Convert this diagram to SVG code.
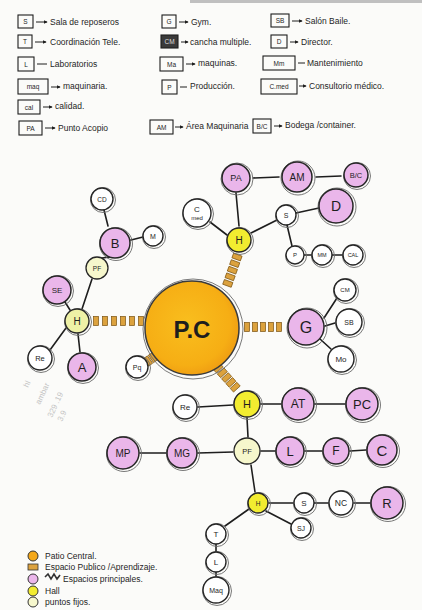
<svg xmlns="http://www.w3.org/2000/svg" xmlns:xlink="http://www.w3.org/1999/xlink" width="422" height="610" viewBox="0 0 422 610">
  <style>
    .hand { font-family: "Liberation Sans", "DejaVu Sans", sans-serif; fill: #1e1e1e; }
    .leg { font-size: 8.5px; }
    .tag { font-size: 6.5px; text-anchor: middle; }
    .box { fill: none; stroke: #1e1e1e; stroke-width: 1.1; }
    .arrow { stroke: #1e1e1e; stroke-width: 1; fill: none; }
    .ring { fill: none; stroke: #6a6a6a; stroke-width: 0.9; }
    .edge { stroke: #1e1e1e; stroke-width: 1.6; fill: none; stroke-linecap: round; }
    .pk { fill: #EAB6EA; stroke: #262626; stroke-width: 1.5; }
    .wh { fill: #ffffff; stroke: #262626; stroke-width: 1.4; }
    .yl { fill: #F2EC30; stroke: #262626; stroke-width: 1.4; }
    .yl2 { fill: #EEF1A6; stroke: #262626; stroke-width: 1.4; }
    .pf { fill: #F6F7CC; stroke: #262626; stroke-width: 1.3; }
    .lbl { font-family: "Liberation Sans", "DejaVu Sans", sans-serif; fill: #1e1e1e; text-anchor: middle; dominant-baseline: central; }
    .note { font-family: "Liberation Sans", "DejaVu Sans", sans-serif; fill: #c4c4c4; font-size: 8px; }
  </style>
  <defs>
    <marker id="ah" viewBox="0 0 6 6" refX="5" refY="3" markerWidth="4" markerHeight="4" orient="auto">
      <path d="M0,0 L6,3 L0,6 z" fill="#1e1e1e"/>
    </marker>
    <radialGradient id="patio" cx="0.45" cy="0.45" r="0.6">
      <stop offset="0" stop-color="#F9BE1E"/>
      <stop offset="0.75" stop-color="#F6AE14"/>
      <stop offset="1" stop-color="#EE9A12"/>
    </radialGradient>
    <rect id="rung" x="-2.5" y="-4.5" width="5" height="9" fill="#DCA23E" stroke="#7a5210" stroke-width="0.7"/>
  </defs>

  <!-- paper -->
  <rect width="422" height="610" fill="#FBFBF9"/>
  <rect x="190" y="0" width="232" height="3" fill="#9a9a9a" opacity="0.6"/>

  <!-- key of abbreviations -->
  <g id="key">
    <g class="hand leg">
      <rect class="box" x="18" y="15" width="15" height="13"/><text class="tag" x="25.5" y="24">S</text>
      <line class="arrow" x1="36" y1="22" x2="47" y2="22" marker-end="url(#ah)"/><text x="50" y="25">Sala de reposeros</text>
      <rect class="box" x="18" y="35" width="14" height="13"/><text class="tag" x="25" y="44">T</text>
      <line class="arrow" x1="35" y1="42" x2="46" y2="42" marker-end="url(#ah)"/><text x="50" y="45">Coordinación Tele.</text>
      <rect class="box" x="18" y="57" width="16" height="14"/><text class="tag" x="26" y="66.5">L</text>
      <line class="arrow" x1="37" y1="64" x2="47" y2="64"/><text x="50" y="67">Laboratorios</text>
      <rect class="box" x="18" y="79" width="30" height="15"/><text class="tag" x="33" y="89">maq</text>
      <line class="arrow" x1="51" y1="87" x2="60" y2="87" marker-end="url(#ah)"/><text x="63" y="89">maquinaria.</text>
      <rect class="box" x="18" y="100" width="22" height="14"/><text class="tag" x="29" y="109.5">cal</text>
      <line class="arrow" x1="43" y1="107" x2="52" y2="107" marker-end="url(#ah)"/><text x="55" y="109">calidad.</text>
      <rect class="box" x="19" y="121" width="23" height="14"/><text class="tag" x="30.5" y="130.5">PA</text>
      <line class="arrow" x1="45" y1="128" x2="55" y2="128" marker-end="url(#ah)"/><text x="58" y="131">Punto Acopio</text>

      <rect class="box" x="162" y="15" width="14" height="13"/><text class="tag" x="169" y="24">G</text>
      <line class="arrow" x1="179" y1="22" x2="188" y2="22" marker-end="url(#ah)"/><text x="191" y="25">Gym.</text>
      <rect x="161" y="35" width="17" height="13" fill="#3a3a3a" stroke="#1e1e1e" stroke-width="1.1"/><text class="tag" x="169.5" y="44" fill="#ddd">CM</text>
      <line class="arrow" x1="181" y1="42" x2="188" y2="42" marker-end="url(#ah)"/><text x="190" y="45">cancha multiple.</text>
      <rect class="box" x="160" y="57" width="23" height="14"/><text class="tag" x="171.5" y="66.5">Ma</text>
      <line class="arrow" x1="186" y1="64" x2="195" y2="64" marker-end="url(#ah)"/><text x="198" y="66">maquinas.</text>
      <rect class="box" x="162" y="80" width="15" height="14"/><text class="tag" x="169.5" y="89.5">P</text>
      <line class="arrow" x1="180" y1="87" x2="187" y2="87"/><text x="190" y="89">Producción.</text>
      <rect class="box" x="150" y="120" width="23" height="14"/><text class="tag" x="161.5" y="129.5">AM</text>
      <line class="arrow" x1="175" y1="127" x2="183" y2="127" marker-end="url(#ah)"/><text x="186" y="129">Área Maquinaria</text>

      <rect class="box" x="271" y="14" width="18" height="13"/><text class="tag" x="280" y="23">SB</text>
      <line class="arrow" x1="292" y1="21" x2="302" y2="21" marker-end="url(#ah)"/><text x="305" y="24">Salón Baile.</text>
      <rect class="box" x="271" y="35" width="16" height="13"/><text class="tag" x="279" y="44">D</text>
      <line class="arrow" x1="290" y1="42" x2="298" y2="42" marker-end="url(#ah)"/><text x="301" y="45">Director.</text>
      <rect class="box" x="263" y="56" width="32" height="14"/><text class="tag" x="279" y="65.5">Mm</text>
      <line class="arrow" x1="298" y1="63" x2="305" y2="63"/><text x="307" y="66">Mantenimiento</text>
      <rect class="box" x="261" y="79" width="36" height="15"/><text class="tag" x="279" y="89">C.med</text>
      <line class="arrow" x1="299" y1="86" x2="306" y2="86" marker-end="url(#ah)"/><text x="309" y="89">Consultorio médico.</text>
      <rect class="box" x="253" y="119" width="18" height="14"/><text class="tag" x="262" y="128.5">B/C</text>
      <line class="arrow" x1="274" y1="126" x2="282" y2="126" marker-end="url(#ah)"/><text x="285" y="128">Bodega /container.</text>
    </g>
  </g>

  <!-- connectors: plain links and public-space ladders -->
  <g id="connectors">
    <g class="links">
      <line class="edge" x1="253" y1="178" x2="279" y2="177"/>
      <line class="edge" x1="316" y1="177" x2="341" y2="176"/>
      <line class="edge" x1="236" y1="193" x2="239" y2="226"/>
      <line class="edge" x1="227" y1="235" x2="210" y2="222"/>
      <line class="edge" x1="251" y1="233" x2="277" y2="220"/>
      <line class="edge" x1="296" y1="213" x2="319" y2="208"/>
      <line class="edge" x1="287" y1="225" x2="292" y2="246"/>
      <line class="edge" x1="304" y1="255" x2="312" y2="255"/>
      <line class="edge" x1="332" y1="255" x2="343" y2="255"/>
      <line class="edge" x1="104" y1="210" x2="108" y2="226"/>
      <line class="edge" x1="131" y1="240" x2="143" y2="237"/>
      <line class="edge" x1="110" y1="257" x2="102" y2="258"/>
      <line class="edge" x1="92" y1="279" x2="82" y2="309"/>
      <line class="edge" x1="65" y1="302" x2="70" y2="310"/>
      <line class="edge" x1="66" y1="328" x2="50" y2="350"/>
      <line class="edge" x1="78" y1="334" x2="80" y2="352"/>
      <line class="edge" x1="324" y1="318" x2="337" y2="298"/>
      <line class="edge" x1="325" y1="326" x2="335" y2="323"/>
      <line class="edge" x1="320" y1="339" x2="331" y2="349"/>
      <line class="edge" x1="198" y1="407" x2="233" y2="405"/>
      <line class="edge" x1="261" y1="404" x2="281" y2="404"/>
      <line class="edge" x1="315" y1="404" x2="345" y2="404"/>
      <line class="edge" x1="140" y1="453" x2="166" y2="453"/>
      <line class="edge" x1="198" y1="453" x2="233" y2="452"/>
      <line class="edge" x1="247" y1="418" x2="248" y2="437"/>
      <line class="edge" x1="261" y1="451" x2="276" y2="451"/>
      <line class="edge" x1="305" y1="451" x2="322" y2="451"/>
      <line class="edge" x1="350" y1="451" x2="366" y2="450"/>
      <line class="edge" x1="251" y1="465" x2="255" y2="492"/>
      <line class="edge" x1="269" y1="503" x2="293" y2="503"/>
      <line class="edge" x1="314" y1="503" x2="329" y2="503"/>
      <line class="edge" x1="354" y1="503" x2="371" y2="503"/>
      <line class="edge" x1="266" y1="511" x2="291" y2="524"/>
      <line class="edge" x1="249" y1="509" x2="225" y2="526"/>
      <line class="edge" x1="216" y1="544" x2="216" y2="552"/>
      <line class="edge" x1="216" y1="572" x2="216" y2="577"/>
    </g>
    <g class="ladders">
      <!-- patio to gym -->
      <use xlink:href="#rung" transform="translate(247,327)"/>
      <use xlink:href="#rung" transform="translate(255,327)"/>
      <use xlink:href="#rung" transform="translate(263,327)"/>
      <use xlink:href="#rung" transform="translate(271,327)"/>
      <use xlink:href="#rung" transform="translate(279,327)"/>
      <!-- patio to west hall -->
      <use xlink:href="#rung" transform="translate(96,321)"/>
      <use xlink:href="#rung" transform="translate(105,321)"/>
      <use xlink:href="#rung" transform="translate(114,321)"/>
      <use xlink:href="#rung" transform="translate(123,321)"/>
      <use xlink:href="#rung" transform="translate(132,321)"/>
      <use xlink:href="#rung" transform="translate(141,321)"/>
      <!-- patio to north hall -->
      <use xlink:href="#rung" transform="translate(237,257) rotate(-70)"/>
      <use xlink:href="#rung" transform="translate(234.7,263.6) rotate(-70)"/>
      <use xlink:href="#rung" transform="translate(232.4,270.2) rotate(-70)"/>
      <use xlink:href="#rung" transform="translate(230.1,276.8) rotate(-70)"/>
      <use xlink:href="#rung" transform="translate(227.8,283.4) rotate(-70)"/>
      <!-- patio to Pq -->
      <use xlink:href="#rung" transform="translate(158,354) rotate(-35)"/>
      <use xlink:href="#rung" transform="translate(153,357.5) rotate(-35)"/>
      <use xlink:href="#rung" transform="translate(148,361) rotate(-35)"/>
      <!-- patio to south hall -->
      <use xlink:href="#rung" transform="translate(218,368) rotate(48)"/>
      <use xlink:href="#rung" transform="translate(222.3,372.8) rotate(48)"/>
      <use xlink:href="#rung" transform="translate(226.6,377.6) rotate(48)"/>
      <use xlink:href="#rung" transform="translate(230.9,382.4) rotate(48)"/>
      <use xlink:href="#rung" transform="translate(235.2,387.2) rotate(48)"/>
    </g>
  </g>

  <!-- central patio -->
  <g id="n-PC">
    <circle class="ring" cx="193" cy="329" r="50"/>
    <circle cx="192" cy="328" r="47" fill="url(#patio)" stroke="#3a3a3a" stroke-width="1.5"/>
    <text class="lbl" x="192" y="329" font-size="24" font-weight="bold">P.C</text>
  </g>

  <!-- north cluster -->
  <g id="n-PA"><circle class="ring" cx="237" cy="179" r="16"/><circle class="pk" cx="236" cy="178" r="14"/><text class="lbl" x="236" y="178" font-size="9">PA</text></g>
  <g id="n-AM"><circle class="ring" cx="298" cy="178" r="17"/><circle class="pk" cx="297" cy="177" r="15"/><text class="lbl" x="297" y="177" font-size="10">AM</text></g>
  <g id="n-BC"><circle class="ring" cx="357" cy="176" r="13.5"/><circle class="pk" cx="356" cy="175" r="12"/><text class="lbl" x="356" y="175" font-size="7.5">B/C</text></g>
  <g id="n-D"><circle class="ring" cx="337" cy="207" r="19"/><circle class="pk" cx="336" cy="206" r="17"/><text class="lbl" x="336" y="206" font-size="14">D</text></g>
  <g id="n-S1"><circle class="ring" cx="287" cy="216" r="11.5"/><circle class="wh" cx="286" cy="215" r="10"/><text class="lbl" x="286" y="215" font-size="7">S</text></g>
  <g id="n-H1"><circle class="ring" cx="240" cy="241" r="13.5"/><circle class="yl" cx="239" cy="240" r="12"/><text class="lbl" x="239" y="240" font-size="10">H</text></g>
  <g id="n-P"><circle class="ring" cx="296" cy="256" r="10.5"/><circle class="wh" cx="295" cy="255" r="9"/><text class="lbl" x="295" y="255" font-size="6">P</text></g>
  <g id="n-MM"><circle class="ring" cx="323" cy="256" r="11.5"/><circle class="wh" cx="322" cy="255" r="10"/><text class="lbl" x="322" y="255" font-size="5.5">MM</text></g>
  <g id="n-CAL"><circle class="ring" cx="354" cy="256" r="11.5"/><circle class="wh" cx="353" cy="255" r="10"/><text class="lbl" x="353" y="255" font-size="5.5">CAL</text></g>
  <g id="n-Cmed"><circle class="ring" cx="198" cy="214" r="15.5"/><circle class="wh" cx="197" cy="213" r="14"/><text class="lbl" x="197" y="209" font-size="8">C</text><text class="lbl" x="197" y="218" font-size="6">med</text></g>

  <!-- west cluster -->
  <g id="n-CD"><circle class="ring" cx="103" cy="200" r="12.5"/><circle class="wh" cx="102" cy="199" r="11"/><text class="lbl" x="102" y="199" font-size="6.5">CD</text></g>
  <g id="n-B"><circle class="ring" cx="116" cy="244" r="16.5"/><circle class="pk" cx="115" cy="243" r="15"/><text class="lbl" x="115" y="243" font-size="13">B</text></g>
  <g id="n-M"><circle class="ring" cx="154" cy="237" r="11.5"/><circle class="wh" cx="153" cy="236" r="10"/><text class="lbl" x="153" y="236" font-size="7">M</text></g>
  <g id="n-PF1"><circle class="pf" cx="97" cy="268" r="11"/><text class="lbl" x="97" y="268" font-size="6.5">PF</text></g>
  <g id="n-SE"><circle class="ring" cx="58" cy="291" r="15.5"/><circle class="pk" cx="57" cy="290" r="14"/><text class="lbl" x="57" y="290" font-size="8">SE</text></g>
  <g id="n-H2"><circle class="ring" cx="78" cy="322" r="13.5"/><circle class="yl2" cx="77" cy="321" r="12"/><text class="lbl" x="77" y="321" font-size="10">H</text></g>
  <g id="n-Re1"><circle class="ring" cx="41" cy="359" r="13.5"/><circle class="wh" cx="40" cy="358" r="12"/><text class="lbl" x="40" y="358" font-size="7.5">Re</text></g>
  <g id="n-A"><circle class="ring" cx="83" cy="368" r="15.5"/><circle class="pk" cx="82" cy="367" r="14"/><text class="lbl" x="82" y="367" font-size="13">A</text></g>
  <g id="n-Pq"><circle class="ring" cx="138" cy="368" r="12.5"/><circle class="wh" cx="137" cy="367" r="11"/><text class="lbl" x="137" y="367" font-size="7">Pq</text></g>

  <!-- east cluster -->
  <g id="n-G"><circle class="ring" cx="307" cy="328" r="20"/><circle class="pk" cx="306" cy="327" r="18"/><text class="lbl" x="306" y="327" font-size="16">G</text></g>
  <g id="n-CM"><circle class="ring" cx="346" cy="291" r="12.5"/><circle class="wh" cx="345" cy="290" r="11"/><text class="lbl" x="345" y="290" font-size="6">CM</text></g>
  <g id="n-SB"><circle class="ring" cx="350" cy="323" r="14.5"/><circle class="wh" cx="349" cy="322" r="13"/><text class="lbl" x="349" y="322" font-size="7">SB</text></g>
  <g id="n-Mo"><circle class="ring" cx="342" cy="360" r="14.5"/><circle class="wh" cx="341" cy="359" r="13"/><text class="lbl" x="341" y="359" font-size="8">Mo</text></g>

  <!-- south cluster -->
  <g id="n-Re2"><circle class="ring" cx="186" cy="408" r="13.5"/><circle class="wh" cx="185" cy="407" r="12"/><text class="lbl" x="185" y="407" font-size="8">Re</text></g>
  <g id="n-H3"><circle class="ring" cx="248" cy="405" r="14.5"/><circle class="yl" cx="247" cy="404" r="13"/><text class="lbl" x="247" y="404" font-size="11">H</text></g>
  <g id="n-AT"><circle class="ring" cx="299" cy="405" r="17.5"/><circle class="pk" cx="298" cy="404" r="16"/><text class="lbl" x="298" y="404" font-size="12">AT</text></g>
  <g id="n-PC2"><circle class="ring" cx="363" cy="405" r="17.5"/><circle class="pk" cx="362" cy="404" r="16"/><text class="lbl" x="362" y="404" font-size="13">PC</text></g>
  <g id="n-MP"><circle class="ring" cx="124" cy="454" r="17.5"/><circle class="pk" cx="123" cy="453" r="16"/><text class="lbl" x="123" y="453" font-size="10">MP</text></g>
  <g id="n-MG"><circle class="ring" cx="183" cy="454" r="16.5"/><circle class="pk" cx="182" cy="453" r="15"/><text class="lbl" x="182" y="453" font-size="10">MG</text></g>
  <g id="n-PF2"><circle class="pf" cx="247" cy="451" r="13"/><text class="lbl" x="247" y="451" font-size="7.5">PF</text></g>
  <g id="n-L"><circle class="ring" cx="291" cy="452" r="15.5"/><circle class="pk" cx="290" cy="451" r="14"/><text class="lbl" x="290" y="451" font-size="13">L</text></g>
  <g id="n-F"><circle class="ring" cx="337" cy="452" r="14.5"/><circle class="pk" cx="336" cy="451" r="13"/><text class="lbl" x="336" y="451" font-size="12">F</text></g>
  <g id="n-C"><circle class="ring" cx="383" cy="451" r="16.5"/><circle class="pk" cx="382" cy="450" r="15"/><text class="lbl" x="382" y="450" font-size="15">C</text></g>
  <g id="n-H4"><circle class="ring" cx="259" cy="504" r="11.5"/><circle class="yl" cx="258" cy="503" r="10"/><text class="lbl" x="258" y="503" font-size="6.5">H</text></g>
  <g id="n-S2"><circle class="ring" cx="305" cy="504" r="11.5"/><circle class="wh" cx="304" cy="503" r="10"/><text class="lbl" x="304" y="503" font-size="8">S</text></g>
  <g id="n-NC"><circle class="ring" cx="342" cy="504" r="13.5"/><circle class="wh" cx="341" cy="503" r="12"/><text class="lbl" x="341" y="503" font-size="8.5">NC</text></g>
  <g id="n-R"><circle class="ring" cx="388" cy="504" r="17.5"/><circle class="pk" cx="387" cy="503" r="16"/><text class="lbl" x="387" y="503" font-size="13">R</text></g>
  <g id="n-SJ"><circle class="ring" cx="302" cy="529" r="11.5"/><circle class="wh" cx="301" cy="528" r="10"/><text class="lbl" x="301" y="528" font-size="7">SJ</text></g>
  <g id="n-T"><circle class="ring" cx="217" cy="535" r="11.5"/><circle class="wh" cx="216" cy="534" r="10"/><text class="lbl" x="216" y="534" font-size="8">T</text></g>
  <g id="n-L2"><circle class="ring" cx="217" cy="563" r="11.5"/><circle class="wh" cx="216" cy="562" r="10"/><text class="lbl" x="216" y="562" font-size="8">L</text></g>
  <g id="n-Maq"><circle class="ring" cx="217" cy="591" r="14.5"/><circle class="wh" cx="216" cy="590" r="13"/><text class="lbl" x="216" y="590" font-size="7">Maq</text></g>

  <!-- pencil note -->
  <g class="note">
    <text transform="translate(28,388) rotate(-65)">hl</text>
    <text transform="translate(40,405) rotate(-65)">ambar</text>
    <text transform="translate(52,418) rotate(-65)">329 .19</text>
    <text transform="translate(62,422) rotate(-65)">3.9</text>
  </g>

  <!-- colour key -->
  <g id="colour-key" class="hand leg">
    <circle cx="33" cy="556" r="5" fill="#F4A81A" stroke="#333" stroke-width="1"/>
    <text x="45" y="559">Patio Central.</text>
    <rect x="28" y="564" width="10" height="6" fill="#DCA23E" stroke="#333" stroke-width="0.8"/>
    <text x="45" y="570">Espacio Publico /Aprendizaje.</text>
    <circle cx="33" cy="579" r="5" fill="#EAB6EA" stroke="#333" stroke-width="1"/>
    <path d="M45,577 l3,-3 l3,5 l3,-5 l3,5 l3,-4" stroke="#333" stroke-width="1.6" fill="none"/>
    <text x="63" y="582">Espacios principales.</text>
    <circle cx="33" cy="591" r="5" fill="#F2EC30" stroke="#333" stroke-width="1"/>
    <text x="45" y="594">Hall</text>
    <circle cx="33" cy="602" r="5" fill="#F6F7CC" stroke="#333" stroke-width="1"/>
    <text x="45" y="605">puntos fijos.</text>
  </g>
</svg>
